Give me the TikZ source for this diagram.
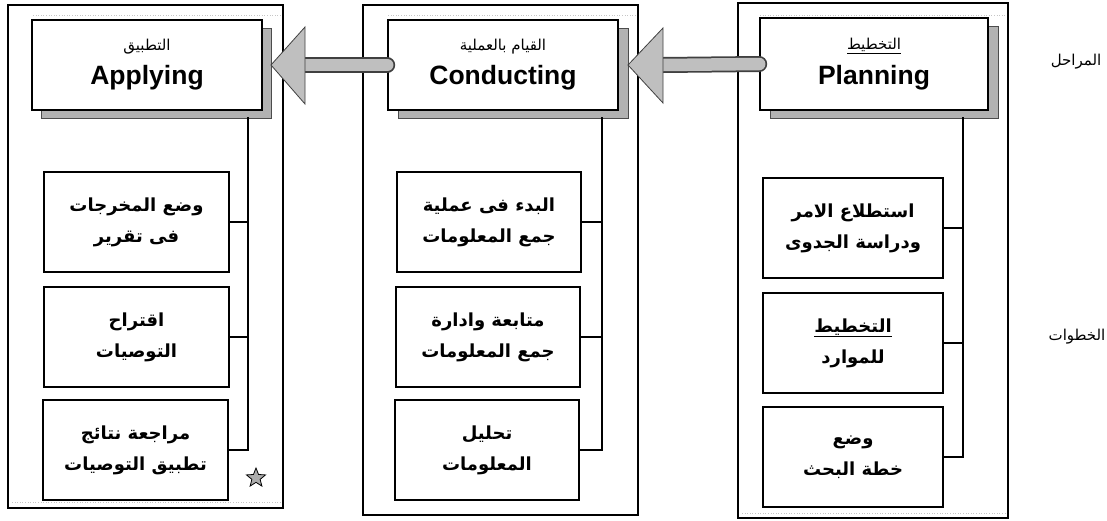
\documentclass[tikz,border=0pt]{standalone}
\usepackage{fontspec}
\setmainfont{Liberation Sans}
\newfontfamily\ar[Script=Arabic]{DejaVu Sans}
\TeXXeTstate=1
\usetikzlibrary{shapes.geometric}

\begin{document}
\begin{tikzpicture}[x=1pt,y=-1pt,
  panel/.style={draw, line width=1.3pt, inner sep=0pt},
  faint/.style={draw=gray!45, line width=0.6pt, dotted},
  shadowbox/.style={fill=gray!60, draw=black!70, line width=0.6pt, inner sep=0pt},
  headbox/.style={draw, line width=1.6pt, fill=white, inner sep=0pt, align=center},
  stepbox/.style={draw, line width=1.6pt, fill=white, minimum height=100pt, inner sep=0pt,
    align=center, font=\ar\bfseries\fontsize{18}{31}\selectfont},
  arlabel/.style={font=\ar\fontsize{15}{18}\selectfont, inner sep=0pt},
  link/.style={draw, line width=1.2pt},
  bar/.style={draw=black!75, line width=16pt, line cap=round,
    postaction={draw=gray!50, line width=12.5pt}},
  arrowhead/.style={fill=gray!50, draw=black!75, line width=0.8pt, line join=miter},
]
\useasboundingbox (0,0) rectangle (1107,520);

% ---- outer frames of the three stages
\node[panel, minimum width=275pt, minimum height=503pt] (pA) at (145.5,256.5) {};
\node[panel, minimum width=275pt, minimum height=510pt] (pC) at (500.5,260) {};
\node[panel, minimum width=270pt, minimum height=515pt] (pP) at (873,260.5) {};

\draw[faint] (33,15) -- (281,15);
\draw[faint] (12,502) -- (281,502);
\draw[faint] (388,15) -- (636,15);
\draw[faint] (760,15) -- (1006,15);
\draw[faint] (742,513) -- (1006,513);

% ---- stage headers with drop shadows
\node[shadowbox, minimum width=230pt, minimum height=90pt] (sA) at (156,73) {};
\node[shadowbox, minimum width=230pt, minimum height=90pt] (sC) at (513,73) {};
\node[shadowbox, minimum width=228pt, minimum height=92pt] (sP) at (884,72) {};

\node[headbox, minimum width=230pt, minimum height=90pt] (hA) at (147,65)
  {{\ar\fontsize{15}{16}\selectfont\beginR التطبيق\endR}\\[10pt]
   {\fontsize{26.5}{28}\selectfont\bfseries Applying}};
\node[headbox, minimum width=230pt, minimum height=90pt] (hC) at (503,65)
  {{\ar\fontsize{15}{16}\selectfont\beginR القيام بالعملية\endR}\\[10pt]
   {\fontsize{26.5}{28}\selectfont\bfseries Conducting}};
\node[headbox, minimum width=228pt, minimum height=92pt] (hP) at (874,64)
  {{\ar\fontsize{15}{16}\selectfont\underline{\hbox{\beginR التخطيط\endR}}}\\[10pt]
   {\fontsize{26.5}{28}\selectfont\bfseries Planning}};

% ---- thick arrows between the stages
\coordinate (tipA) at (271,65);
\coordinate (baseA) at (305,65);
\coordinate (tipC) at (628,65);
\coordinate (baseC) at (663,65);
\draw[bar] (hC.west) -- (baseA);
\draw[bar] (hP.west) -- (baseC);
\draw[arrowhead] (tipA) -- ++(34,-38) -- ++(0,77) -- cycle;
\draw[arrowhead] (tipC) -- ++(35,-37) -- ++(0,75) -- cycle;

% ---- steps of each stage
\node[stepbox, minimum width=185pt] (a1) at (136.5,222) {\beginR وضع المخرجات\endR\\\beginR فى تقرير\endR};
\node[stepbox, minimum width=185pt] (a2) at (136.5,337) {\beginR اقتراح\endR\\\beginR التوصيات\endR};
\node[stepbox, minimum width=185pt] (a3) at (135.5,450) {\beginR مراجعة نتائج\endR\\\beginR تطبيق التوصيات\endR};

\node[stepbox, minimum width=184pt] (c1) at (489,222) {\beginR البدء فى عملية\endR\\\beginR جمع المعلومات\endR};
\node[stepbox, minimum width=184pt] (c2) at (488,337) {\beginR متابعة وادارة\endR\\\beginR جمع المعلومات\endR};
\node[stepbox, minimum width=184pt] (c3) at (487,450) {\beginR تحليل\endR\\\beginR المعلومات\endR};

\node[stepbox, minimum width=180pt] (p1) at (853,228) {\beginR استطلاع الامر\endR\\\beginR ودراسة الجدوى\endR};
\node[stepbox, minimum width=180pt] (p2) at (853,343) {\underline{\hbox{\beginR التخطيط\endR}}\\\beginR للموارد\endR};
\node[stepbox, minimum width=180pt] (p3) at (853,457) {\beginR وضع\endR\\\beginR خطة البحث\endR};

% ---- trunk lines from each header to its steps
\coordinate (tA) at (248,117);
\coordinate (tC) at (602,117);
\coordinate (tP) at (963,117);
\draw[link] (tA) -- (tA |- a3.east) -- (a3.east);
\draw[link] (a1.east) -- (tA |- a1.east);
\draw[link] (a2.east) -- (tA |- a2.east);
\draw[link] (tC) -- (tC |- c3.east) -- (c3.east);
\draw[link] (c1.east) -- (tC |- c1.east);
\draw[link] (c2.east) -- (tC |- c2.east);
\draw[link] (tP) -- (tP |- p3.east) -- (p3.east);
\draw[link] (p1.east) -- (tP |- p1.east);
\draw[link] (p2.east) -- (tP |- p2.east);

\node[star, star points=5, star point ratio=2.3, draw, fill=gray!65, line width=0.8pt,
  minimum size=20pt, inner sep=0pt] (mark) at (256,478) {};

% ---- row labels
\node[arlabel] (stages) at (1076,62) {\beginR المراحل\endR};
\node[arlabel] (steps) at (1077,337) {\beginR الخطوات\endR};
\end{tikzpicture}
\end{document}
